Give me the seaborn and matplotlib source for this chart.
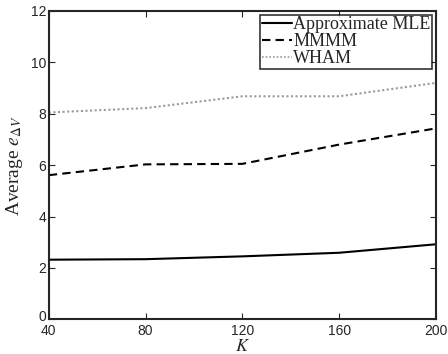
import matplotlib
matplotlib.use("Agg")
import matplotlib.pyplot as plt
import matplotlib.transforms as mtransforms
import seaborn as sns
import pandas as pd
from matplotlib.lines import Line2D

K = [40, 80, 120, 160, 200]
mle = [2.32, 2.34, 2.45, 2.59, 2.92]
mmmm = [5.61, 6.03, 6.05, 6.8, 7.43]
wham = [8.05, 8.22, 8.68, 8.68, 9.2]
series_names = ["Approximate MLE", "MMMM", "WHAM"]

df = pd.DataFrame({
    "K": K * 3,
    "value": mle + mmmm + wham,
    "method": [series_names[0]] * 5 + [series_names[1]] * 5 + [series_names[2]] * 5,
})

sns.set_style("ticks")
plt.rcParams["mathtext.fontset"] = "stix"
plt.rcParams["font.family"] = ["Liberation Sans", "DejaVu Sans"]

fig = plt.figure(figsize=(4.48, 3.54), dpi=100)
ax = fig.add_axes([0.109, 0.098, 0.864, 0.871])

colors = {series_names[0]: "black", series_names[1]: "black", series_names[2]: "#9a9a9a"}
dashes = {series_names[0]: "", series_names[1]: (4, 2.5), series_names[2]: (1, 1.2)}
sns.lineplot(data=df, x="K", y="value", hue="method", style="method",
             palette=colors, dashes=dashes, linewidth=1.5, ax=ax, legend=False)

ax.set_xlim(40, 200)
ax.set_ylim(0, 12)
ax.set_xticks(K)
ax.set_yticks(range(0, 13, 2))
ax.tick_params(direction="in", top=True, right=True, length=4, width=0.8,
               labelsize=10, pad=2)
ax.tick_params(axis="x", pad=3.5)
for sp in ax.spines.values():
    sp.set_linewidth(1.5)
    sp.set_visible(True)

# nudge the "0" y tick label up slightly so it does not collide with "40"
fig.canvas.draw()
lbl0 = ax.get_yticklabels()[0]
lbl0.set_transform(lbl0.get_transform() +
                   mtransforms.ScaledTranslation(0, 3 / 72, fig.dpi_scale_trans))

ax.set_xlabel("$K$", fontsize=13, labelpad=0)
ax.set_ylabel("Average $e_{\\Delta V}$", fontsize=14, family="Liberation Serif", labelpad=4)

handles = [
    Line2D([], [], color=colors[series_names[0]], lw=1.5),
    Line2D([], [], color=colors[series_names[1]], lw=1.5, dashes=dashes[series_names[1]]),
    Line2D([], [], color=colors[series_names[2]], lw=1.2, dashes=dashes[series_names[2]]),
]
leg = ax.legend(handles, series_names, loc="upper right",
                prop={"family": "Liberation Serif", "size": 13},
                frameon=True, fancybox=False, edgecolor="black",
                handlelength=1.7, handletextpad=0.05, labelspacing=0.0,
                borderpad=0.1, borderaxespad=0.2)
leg.get_frame().set_linewidth(1.2)

fig.savefig("out.png", dpi=100)
